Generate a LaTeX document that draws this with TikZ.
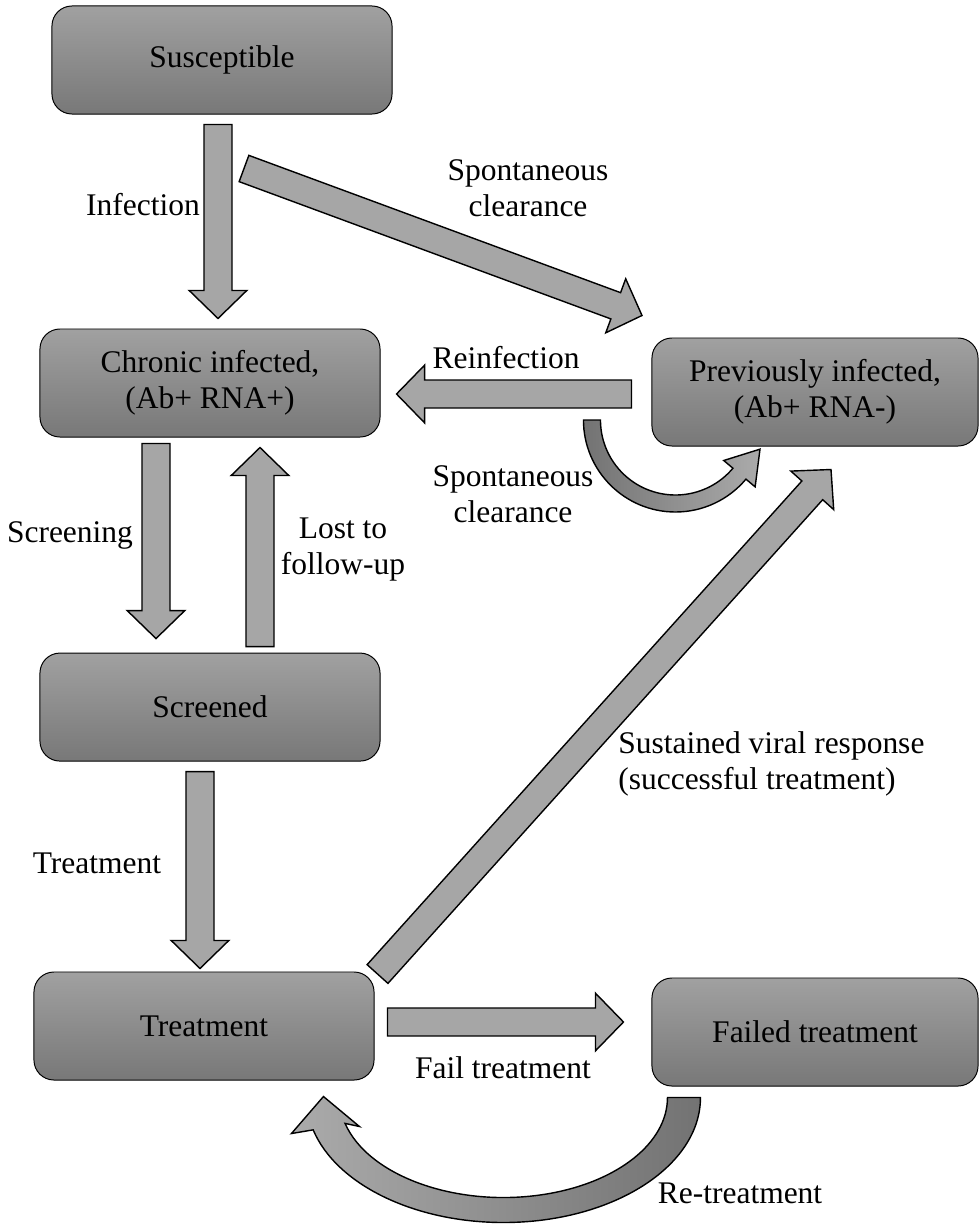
\documentclass[tikz,border=0pt]{standalone}
\usepackage{fontspec}
\setmainfont{Liberation Serif}
\usepackage{tikz}
\usetikzlibrary{positioning}
\usetikzlibrary{calc}
\newcommand{\shaftw}{0.35cm}
\newcommand{\headw}{0.72cm}
\newcommand{\headl}{0.7cm}
\newcommand{\lblfont}{\fontsize{22.4}{25.6}\selectfont}
\tikzset{
st/.style={
  rectangle,rounded corners=0.5cm,
  draw=black,line width=0.7pt,
  top color=black!37,bottom color=black!53,
  minimum width=8.5cm,minimum height=2.7cm,
  inner sep=0pt,
  align=center
  }
}
\tikzset{
fat/.style={
  draw=black,line width=1pt,fill=black!35,line join=miter,
  to path={($(\tikztostart)!\shaftw!90:(\tikztotarget)$)
    -- ($($(\tikztotarget)!\headl!(\tikztostart)$)!\shaftw!-90:(\tikztostart)$)
    -- ($($(\tikztotarget)!\headl!(\tikztostart)$)!\headw!-90:(\tikztostart)$)
    -- (\tikztotarget)
    -- ($($(\tikztotarget)!\headl!(\tikztostart)$)!\headw!90:(\tikztostart)$)
    -- ($($(\tikztotarget)!\headl!(\tikztostart)$)!\shaftw!90:(\tikztostart)$)
    -- ($(\tikztostart)!\shaftw!-90:(\tikztotarget)$)
    -- cycle}
  },
lbl/.style={align=center,inner sep=0pt},
bent/.style={line width=1pt,line join=miter}
}

\begin{document}
\begin{tikzpicture}[x=0.025cm,y=-0.025cm,font=\lblfont]
            \useasboundingbox (0,0) rectangle (979,1224);
            \node[st] (sus) at (222,60) {Susceptible};
            \node[st] (chr) at (210,383) {Chronic infected,\\(Ab+ RNA+)};
            \node[st,minimum width=8.15cm] (prev) at (815,392) {Previously infected,\\(Ab+ RNA-)};
            \node[st] (scr) [below=5.375cm of chr] {Screened};
            \node[st] (trt) at (204,1026) {Treatment};
            \node[st,minimum width=8.15cm] (fail) at (815,1032) {Failed treatment};

            \coordinate (infS) at ($(sus.south)+(-4,10)$);
            \coordinate (infE) at ($(chr.north)+(8,-10)$);
            \coordinate (spS) at ($(sus.south)+(22,54)$);
            \coordinate (spE) at ($(prev.north)+(-173,-22)$);
            \coordinate (reinS) at ($(prev.west)+(-20,2)$);
            \coordinate (reinE) at ($(chr.east)+(16,11)$);
            \coordinate (scrS) at ($(chr.south)+(-54,6)$);
            \coordinate (scrE) at ($(scr.north)+(-54,-14)$);
            \coordinate (lostS) at ($(scr.north)+(50,-6)$);
            \coordinate (lostE) at ($(chr.south)+(50,10)$);
            \coordinate (trtS) at ($(scr.south)+(-10,10)$);
            \coordinate (trtE) at ($(trt.north)+(-4,-3)$);
            \coordinate (svrS) at ($(trt.east)+(3,-52)$);
            \coordinate (svrE) at ($(prev.south)+(16,23)$);
            \coordinate (failS) at ($(trt.east)+(13,-4)$);
            \coordinate (failE) at ($(fail.west)+(-28,-10)$);
            \coordinate (sc) at ($(prev.west)+(24,28)$);
            \coordinate (rc) at ($(fail.south west)+(-148,11)$);

            \path[fat]
            (infS) to (infE)
            (spS) to (spE)
            (reinS) to (reinE)
            (scrS) to (scrE)
            (lostS) to (lostE)
            (trtS) to (trtE)
            (svrS) to (svrE)
            (failS) to (failE)
            ;
            \shadedraw[bent,left color=black!55,right color=black!33]
            ($(sc)+(180:92)$) arc[start angle=180,end angle=40,radius=92]
            -- ($(sc)+(40:104)$) -- ($(sc)+(40:83.5)+(-50:32)$) -- ($(sc)+(40:63)$)
            -- ($(sc)+(40:75)$) arc[start angle=40,end angle=180,radius=75] -- cycle;
            \shadedraw[bent,left color=black!33,right color=black!55]
            ($(rc)+(0:197 and 125)$) arc[start angle=0,end angle=165,x radius=197,y radius=125]
            -- ($(rc)+(-212,36)$) -- ($(rc)+(-180,-1)$) -- ($(rc)+(-144,29)$)
            -- ($(rc)+(165:164 and 100)$) arc[start angle=165,end angle=0,x radius=164,y radius=100] -- cycle;

            \node[lbl] (linf) at (143,205) {Infection};
            \node[lbl] (lsp1) at (528,188) {Spontaneous\\clearance};
            \node[lbl] (lrein) at (506,358) {Reinfection};
            \node[lbl] (lsp2) at (513,494) {Spontaneous\\clearance};
            \node[lbl] (lscr) at (70,535) {Screening};
            \node[lbl] (llost) at (343,550) {Lost to\\follow-up};
            \node[lbl] (ltrt) at (97,863) {Treatment};
            \node[lbl,align=left,anchor=west] (lsvr) at (618,764) {Sustained viral response\\(successful treatment)};
            \node[lbl] (lfail) at (503,1068) {Fail treatment};
            \node[lbl] (lre) at (740,1193) {Re-treatment};
        \end{tikzpicture}
\end{document}
